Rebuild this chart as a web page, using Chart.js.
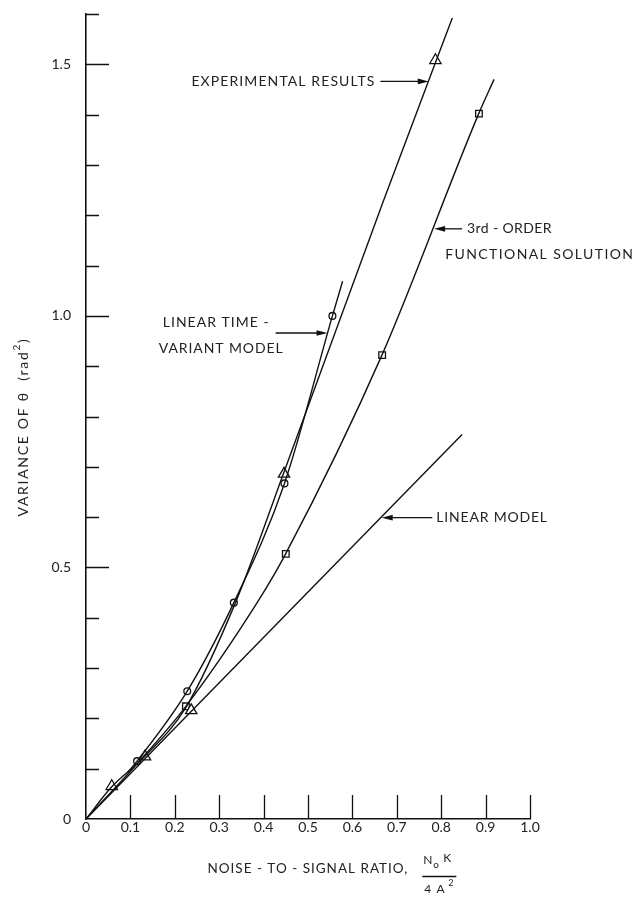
<!DOCTYPE html>
<html>
<head>
<meta charset="utf-8">
<script src="https://cdn.jsdelivr.net/npm/chart.js@4/dist/chart.umd.min.js"></script>
<style>
  html, body { margin: 0; padding: 0; background: #ffffff; }
  #wrap { width: 638px; height: 898px; }
</style>
</head>
<body>
<div id="wrap"><canvas id="chart" width="638" height="898"></canvas></div>
<script>
// ---- smooth curves (fitted by hand through the measured points) ----
const experimentalCurveX = [0, 0.056, 0.133, 0.225, 0.339, 0.445, 0.67, 0.825];
const experimentalCurveY = [0, 0.062, 0.125, 0.222, 0.435, 0.687, 1.229, 1.592];

const timeVariantCurveX = [0.094, 0.115, 0.228, 0.333, 0.447, 0.555, 0.578];
const timeVariantCurveY = [0.093, 0.115, 0.254, 0.43, 0.667, 1.0, 1.069];

const thirdOrderCurveX = [0, 0.11, 0.225, 0.389, 0.449, 0.667, 0.885, 0.919];
const thirdOrderCurveY = [0, 0.105, 0.224, 0.435, 0.526, 0.923, 1.403, 1.47];

const linearModelX = [0, 0.847];
const linearModelY = [0, 0.764];

// ---- measured points ----
const experimentalX = [0.058, 0.133, 0.237, 0.446, 0.787];
const experimentalY = [0.065, 0.124, 0.216, 0.686, 1.508];

const timeVariantX = [0.115, 0.228, 0.333, 0.447, 0.555];
const timeVariantY = [0.115, 0.254, 0.43, 0.667, 1.0];

const thirdOrderX = [0.225, 0.45, 0.667, 0.885];
const thirdOrderY = [0.224, 0.527, 0.922, 1.402];

// ---- axes ----
const xTickValues = [0.1, 0.2, 0.3, 0.4, 0.5, 0.6, 0.7, 0.8, 0.9, 1.0];
const yMinorTickValues = [0.1, 0.2, 0.3, 0.4, 0.6, 0.7, 0.8, 0.9, 1.1, 1.2, 1.3, 1.4, 1.6];
const yMajorTickValues = [0.5, 1.0, 1.5];

// ---- callouts: [text, x, y, align, letter spacing], arrow from -> to (data units) ----
const callouts = [
  { lines: [["EXPERIMENTAL RESULTS", 0.652, 1.466, "right", 1.1]], from: [0.663, 1.466], to: [0.772, 1.466] },
  { lines: [["3rd - ORDER", 0.858, 1.173, "left", 0.4], ["FUNCTIONAL SOLUTION", 0.809, 1.123, "left", 1.4]], from: [0.847, 1.173], to: [0.784, 1.173] },
  { lines: [["LINEAR TIME -", 0.173, 0.986, "left", 1.0], ["VARIANT MODEL", 0.164, 0.935, "left", 0.9]], from: [0.427, 0.966], to: [0.544, 0.966] },
  { lines: [["LINEAR MODEL", 0.789, 0.599, "left", 0.8]], from: [0.78, 0.599], to: [0.666, 0.599] }
];

const FONT = "Lato, 'DejaVu Sans', sans-serif";
const INK = "#111111";

function pairs(xs, ys) { return xs.map((x, i) => ({ x: x, y: ys[i] })); }

const curveStyle = {
  showLine: true, pointRadius: 0, pointHoverRadius: 0,
  borderColor: INK, borderWidth: 1.4, cubicInterpolationMode: "monotone", fill: false
};
const markerStyle = {
  showLine: false, borderColor: INK, backgroundColor: "#ffffff", borderWidth: 1.3
};

const decor = {
  id: "decor",
  afterDraw(chart) {
    const ctx = chart.ctx;
    const xs = chart.scales.x, ys = chart.scales.y;
    const area = chart.chartArea;
    ctx.save();
    ctx.strokeStyle = INK;
    ctx.fillStyle = "#222222";
    ctx.lineWidth = 1.3;

    // inward tick marks
    ctx.beginPath();
    xTickValues.forEach(v => {
      const px = Math.round(xs.getPixelForValue(v)) + 0.5;
      ctx.moveTo(px, area.bottom); ctx.lineTo(px, area.bottom - 24);
    });
    yMinorTickValues.forEach(v => {
      const py = Math.round(ys.getPixelForValue(v)) + 0.5;
      ctx.moveTo(area.left, py); ctx.lineTo(area.left + 13, py);
    });
    yMajorTickValues.forEach(v => {
      const py = Math.round(ys.getPixelForValue(v)) + 0.5;
      ctx.moveTo(area.left, py); ctx.lineTo(area.left + 23, py);
    });
    ctx.stroke();

    // callouts
    ctx.font = "14px " + FONT;
    ctx.textBaseline = "middle";
    callouts.forEach(c => {
      c.lines.forEach(([t, vx, vy, align, ls]) => {
        ctx.letterSpacing = ls + "px";
        ctx.textAlign = align;
        ctx.fillText(t, xs.getPixelForValue(vx), ys.getPixelForValue(vy));
      });
      const x0 = xs.getPixelForValue(c.from[0]), y0 = ys.getPixelForValue(c.from[1]);
      const x1 = xs.getPixelForValue(c.to[0]), y1 = ys.getPixelForValue(c.to[1]);
      const dir = Math.sign(x1 - x0);
      ctx.beginPath(); ctx.moveTo(x0, y0); ctx.lineTo(x1 - dir * 6, y1); ctx.stroke();
      ctx.beginPath();
      ctx.moveTo(x1, y1);
      ctx.lineTo(x1 - dir * 11, y1 - 2.8);
      ctx.lineTo(x1 - dir * 11, y1 + 2.8);
      ctx.closePath();
      ctx.fillStyle = INK; ctx.fill(); ctx.fillStyle = "#222222";
    });

    // y axis title, rotated
    ctx.save();
    ctx.translate(area.left - 63, ys.getPixelForValue(0.779));
    ctx.rotate(-Math.PI / 2);
    ctx.font = "14px " + FONT;
    ctx.letterSpacing = "1.7px";
    ctx.textBaseline = "middle";
    const main = "VARIANCE OF \u03B8  (rad";
    const wMain = ctx.measureText(main).width;
    ctx.font = "10px " + FONT;
    const wSup = ctx.measureText("2").width;
    ctx.font = "14px " + FONT;
    const wClose = ctx.measureText(")").width;
    let sx = -(wMain + wSup + wClose) / 2;
    ctx.textAlign = "left";
    ctx.fillText(main, sx, 0); sx += wMain;
    ctx.font = "10px " + FONT; ctx.fillText("2", sx, -6); sx += wSup;
    ctx.font = "14px " + FONT; ctx.fillText(")", sx, 0);
    ctx.restore();

    // x axis title with fraction
    const tx = xs.getPixelForValue(0.726), ty = area.bottom + 50;
    ctx.font = "13.5px " + FONT;
    ctx.letterSpacing = "1px";
    ctx.textAlign = "right";
    ctx.fillText("NOISE - TO - SIGNAL RATIO,", tx, ty);
    const fx = tx + 15;
    ctx.textAlign = "left";
    ctx.font = "12px " + FONT; ctx.fillText("N", fx, ty - 9);
    ctx.font = "10px " + FONT; ctx.fillText("o", fx + 10, ty - 4);
    ctx.font = "12px " + FONT; ctx.fillText("K", fx + 20, ty - 11);
    ctx.beginPath(); ctx.moveTo(fx - 1, ty + 7.5); ctx.lineTo(fx + 33, ty + 7.5); ctx.stroke();
    ctx.font = "12px " + FONT; ctx.fillText("4 A", fx + 1, ty + 20);
    ctx.font = "9px " + FONT; ctx.fillText("2", fx + 25, ty + 14);
    ctx.restore();
  }
};

new Chart(document.getElementById("chart"), {
  type: "scatter",
  data: {
    datasets: [
      Object.assign({ label: "Experimental results", data: pairs(experimentalCurveX, experimentalCurveY) }, curveStyle),
      Object.assign({ label: "Linear time-variant model", data: pairs(timeVariantCurveX, timeVariantCurveY) }, curveStyle),
      Object.assign({ label: "3rd-order functional solution", data: pairs(thirdOrderCurveX, thirdOrderCurveY) }, curveStyle),
      Object.assign({ label: "Linear model", data: pairs(linearModelX, linearModelY) }, curveStyle, { cubicInterpolationMode: "default", tension: 0 }),
      Object.assign({ label: "Experimental points", data: pairs(experimentalX, experimentalY), pointStyle: "triangle", pointRadius: 6.5 }, markerStyle),
      Object.assign({ label: "Time-variant points", data: pairs(timeVariantX, timeVariantY), pointStyle: "circle", pointRadius: 3.4 }, markerStyle),
      Object.assign({ label: "3rd-order points", data: pairs(thirdOrderX, thirdOrderY), pointStyle: "rect", pointRadius: 4.7 }, markerStyle)
    ]
  },
  options: {
    responsive: false,
    animation: false,
    devicePixelRatio: 1,
    layout: { padding: { left: 0, top: 14, right: 108, bottom: 0 } },
    plugins: { legend: { display: false }, tooltip: { enabled: false }, title: { display: false } },
    scales: {
      x: {
        type: "linear", min: 0, max: 1.0,
        grid: { display: false, drawTicks: false },
        border: { display: true, color: INK, width: 1.6 },
        ticks: {
          stepSize: 0.1, autoSkip: false, maxRotation: 0, padding: 0,
          color: "#222222", font: { family: FONT, size: 14 },
          callback: v => (Math.abs(v) < 1e-9 ? "0" : v.toFixed(1))
        },
        afterFit(s) { s.height = 79; s.paddingLeft = 0; s.paddingRight = 0; }
      },
      y: {
        type: "linear", min: 0, max: 1.6,
        grid: { display: false, drawTicks: false },
        border: { display: true, color: INK, width: 1.6 },
        ticks: {
          stepSize: 0.1, autoSkip: false, padding: 15,
          color: "#222222", font: { family: FONT, size: 14 },
          callback: v => {
            const r = Math.round(v * 10);
            if (r % 5 !== 0) return "";
            return r === 0 ? "0" : (r / 10).toFixed(1);
          }
        },
        afterFit(s) { s.width = 86; s.paddingTop = 0; s.paddingBottom = 0; }
      }
    }
  },
  plugins: [decor]
});
</script>
</body>
</html>
